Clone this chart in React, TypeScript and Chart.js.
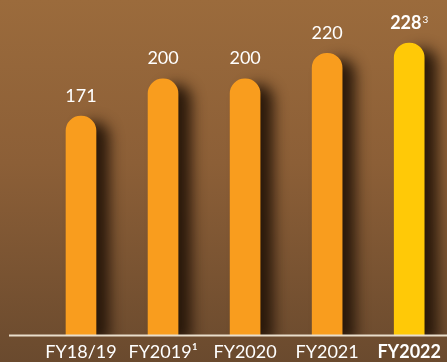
import { useEffect, useRef } from 'react';
import { Chart, registerables } from 'chart.js';

Chart.register(...registerables);

const categories = ['FY18/19', 'FY2019¹', 'FY2020', 'FY2021', 'FY2022'];
const values = [171, 200, 200, 220, 228];
const valueNotes = ['', '', '', '', '3'];
const highlightIndex = 4;
const barColors = ['#F99D1E', '#F99D1E', '#F99D1E', '#F99D1E', '#FFC907'];

const FONT = 'Lato';

export default function App() {
  const ref = useRef<HTMLCanvasElement>(null);

  useEffect(() => {
    document.body.style.margin = '0';
    const canvas = ref.current;
    if (!canvas) return;

    const bgPlugin = {
      id: 'bg',
      beforeDraw(chart: any) {
        const { ctx, width, height } = chart;
        const g = ctx.createLinearGradient(0, 0, 0, height);
        g.addColorStop(0, '#9B6B3C');
        g.addColorStop(0.45, '#8C5F37');
        g.addColorStop(1, '#6A4A2E');
        ctx.save();
        ctx.fillStyle = g;
        ctx.fillRect(0, 0, width, height);
        ctx.restore();
      },
    };

    const shadowPlugin = {
      id: 'barShadow',
      beforeDatasetDraw(chart: any) {
        const ctx = chart.ctx;
        ctx.save();
        ctx.shadowColor = 'rgba(35,20,8,0.92)';
        ctx.shadowBlur = 14;
        ctx.shadowOffsetX = 13;
        ctx.shadowOffsetY = 6;
      },
      afterDatasetDraw(chart: any) {
        chart.ctx.restore();
      },
    };

    const overlayPlugin = {
      id: 'overlay',
      afterDatasetsDraw(chart: any) {
        const { ctx, chartArea } = chart;
        ctx.save();
        ctx.strokeStyle = '#E9DECB';
        ctx.lineWidth = 2;
        ctx.beginPath();
        ctx.moveTo(9, chartArea.bottom);
        ctx.lineTo(chart.width, chartArea.bottom);
        ctx.stroke();

        const meta = chart.getDatasetMeta(0);
        ctx.fillStyle = '#FFFFFF';
        ctx.textBaseline = 'alphabetic';
        ctx.textAlign = 'left';
        meta.data.forEach((bar: any, i: number) => {
          const text = String(values[i]);
          const note = valueNotes[i];
          const bold = i === highlightIndex;
          const mainFont = `${bold ? 'bold ' : ''}18px ${FONT}`;
          const noteFont = `10px ${FONT}`;
          ctx.font = mainFont;
          const w1 = ctx.measureText(text).width;
          ctx.font = noteFont;
          const w2 = note ? ctx.measureText(note).width + 1 : 0;
          const total = w1 + w2;
          const x0 = bar.x - total / 2;
          const yBase = bar.y - 14.5;
          ctx.font = mainFont;
          ctx.fillText(text, x0, yBase);
          if (note) {
            ctx.font = noteFont;
            ctx.fillText(note, x0 + w1 + 1, yBase - 6);
          }
        });
        ctx.restore();
      },
    };

    const chart = new Chart(canvas, {
      type: 'bar',
      data: {
        labels: categories,
        datasets: [
          {
            data: values,
            backgroundColor: barColors,
            barThickness: 30,
            borderWidth: 0,
            borderRadius: { topLeft: 15, topRight: 15, bottomLeft: 0, bottomRight: 0 },
            borderSkipped: false,
            clip: { left: 60, right: 60, top: 60, bottom: 0 },
          } as any,
        ],
      },
      options: {
        responsive: false,
        animation: false,
        layout: { padding: { left: 81, right: 34, top: 2, bottom: -7 } },
        plugins: { legend: { display: false }, tooltip: { enabled: false } },
        scales: {
          x: {
            offset: false,
            grid: { display: false, drawTicks: false },
            border: { display: false },
            ticks: {
              color: '#FFFFFF',
              padding: 6,
              autoSkip: false,
              maxRotation: 0,
              font: (c: any) => ({
                family: FONT,
                size: 18,
                weight: c.index === highlightIndex ? 'bold' : 'normal',
              }),
            },
          },
          y: { display: false, min: 0, max: 260 },
        },
      },
      plugins: [bgPlugin, shadowPlugin, overlayPlugin],
    });

    return () => chart.destroy();
  }, []);

  return (
    <div style={{ width: 447, height: 362 }}>
      <canvas ref={ref} width={447} height={362} />
    </div>
  );
}
